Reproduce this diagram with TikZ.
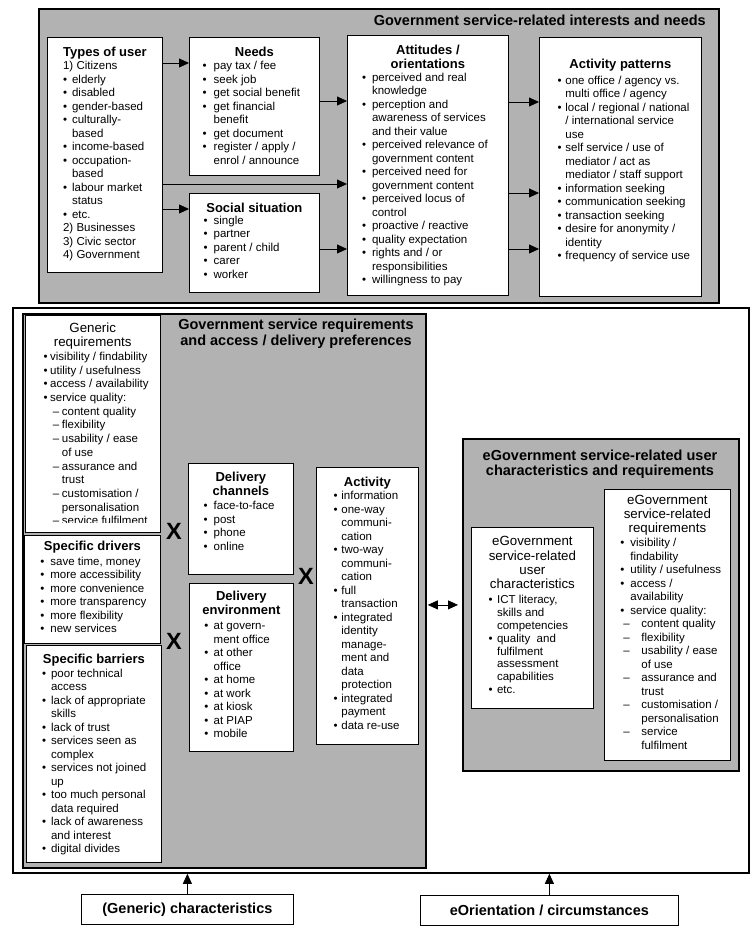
\documentclass[tikz,border=0pt]{standalone}
\usepackage{fontspec}
\setmainfont{Liberation Sans}
\usetikzlibrary{arrows.meta,calc}

\definecolor{panelgray}{gray}{0.70}
\newlength\bulx \newlength\bulw \newlength\dashx \newlength\dashw
\newcommand{\cardfont}{\fontsize{11.5}{13.5}\selectfont}
\newcommand{\cardheadfont}{\fontsize{13}{14.5}\selectfont\bfseries}
\newcommand{\bigtitle}{\fontsize{14.5}{15.5}\selectfont\bfseries}
\newcommand{\bulletat}[2]{\setlength\bulx{#1pt}\setlength\bulw{#2pt}}
\newcommand{\dashat}[2]{\setlength\dashx{#1pt}\setlength\dashw{#2pt}}
\newcommand{\bitem}{\par\hangindent=\dimexpr\bulx+\bulw\relax\hangafter=1\hspace*{\bulx}\makebox[\bulw][l]{\textbullet}}
\newcommand{\ditem}{\par\hangindent=\dimexpr\dashx+\dashw\relax\hangafter=1\hspace*{\dashx}\makebox[\dashw][l]{\textendash}}
\newcommand{\nitem}{\par\hangindent=\dimexpr\bulx+\bulw\relax\hangafter=1\hspace*{\bulx}}
\newcommand{\cardhead}[2]{{\centering\cardheadfont\rule{0pt}{#1pt}#2\par}}
\newcommand{\cardheadr}[2]{{\centering\fontsize{13.3}{14.2}\selectfont\rule{0pt}{#1pt}#2\par}}
% box of w x h with text from the top
\newcommand{\cardtext}[3]{\parbox[c][#2pt][t]{#1pt}{\cardfont\rightskip=-30pt plus 1fil\relax #3}}

\begin{document}
\begin{tikzpicture}[x=1pt, y=-1pt, >={Triangle[length=10pt,width=9pt]},
  card/.style={draw, fill=white, line width=0.8pt, inner sep=0pt, anchor=north west},
  panel/.style={draw, fill=panelgray, line width=1.8pt, inner sep=0pt, anchor=north west},
  link/.style={line width=0.8pt, arrows=->},
  cross/.style={font=\fontsize{23.5}{24}\selectfont\bfseries, inner sep=0pt}]
\useasboundingbox (0,0) rectangle (753,930);

% interests and needs
\node[panel, minimum width=680pt, minimum height=294pt] (interests) at (38,8) {};
\node[anchor=base east, inner sep=0pt, font=\bigtitle] (intereststitle) at (706,25.7) {Government service-related interests and needs};

\node[card] (types) at (47,37) {\cardtext{115}{235}{\bulletat{15.7}{9}
  \cardhead{18.7}{Types of user}
  \nitem 1) Citizens
  \bitem elderly
  \bitem disabled
  \bitem gender-based
  \bitem culturally-\\based
  \bitem income-based
  \bitem occupation-\\based
  \bitem labour market\\status
  \bitem etc.
  \nitem 2) Businesses
  \nitem 3) Civic sector
  \nitem 4) Government}};

\node[card] (needs) at (189,37) {\cardtext{130}{138}{\bulletat{13.3}{11}
  \cardhead{18.7}{Needs}
  \bitem pay tax / fee
  \bitem seek job
  \bitem get social benefit
  \bitem get financial\\benefit
  \bitem get document
  \bitem register / apply /\\enrol / announce}};

\node[card] (social) at (189,193) {\cardtext{130}{99}{\bulletat{14.3}{10}
  \cardhead{19}{Social situation}\vspace{-1.5pt}
  \bitem single
  \bitem partner
  \bitem parent / child
  \bitem carer
  \bitem worker}};

\node[card] (attitudes) at (347,35) {\cardtext{161}{260}{\bulletat{14.7}{10}
  \cardhead{19}{Attitudes /\\orientations}\vspace{-1pt}
  \bitem perceived and real\\knowledge
  \bitem perception and\\awareness of services\\and their value
  \bitem perceived relevance of\\government content
  \bitem perceived need for\\government content
  \bitem perceived locus of\\control
  \bitem proactive / reactive
  \bitem quality expectation
  \bitem rights and / or\\responsibilities
  \bitem willingness to pay}};

\node[card] (patterns) at (539,37) {\cardtext{162}{259}{\bulletat{18.3}{7.7}
  \cardhead{31}{Activity patterns}\vspace{2.5pt}
  \bitem one office / agency vs.\\multi office / agency
  \bitem local / regional / national\\/ international service\\use
  \bitem self service / use of\\mediator / act as\\mediator / staff support
  \bitem information seeking
  \bitem communication seeking
  \bitem transaction seeking
  \bitem desire for anonymity /\\identity
  \bitem frequency of service use}};

\draw[link] (types.east |- 0,63) -- (needs.west |- 0,63);
\draw[link] (types.east |- 0,184) -- (attitudes.west |- 0,184);
\draw[link] (types.east |- 0,209) -- (social.west |- 0,209);
\draw[link] (needs.east |- 0,101) -- (attitudes.west |- 0,101);
\draw[link] (social.east |- 0,249) -- (attitudes.west |- 0,249);
\foreach \y in {102,193,249}
  \draw[link] (attitudes.east |- 0,\y) -- (patterns.west |- 0,\y);

% requirements and preferences
\node[card, line width=1.8pt, minimum width=736pt, minimum height=565pt] (prefs) at (12,307) {};
\node[panel, minimum width=403pt, minimum height=554pt] (reqs) at (22,313) {};
\node[anchor=north, inner sep=0pt] (reqstitle) at (296,313) {\parbox[t]{260pt}{\centering\bigtitle\rule{0pt}{16.3pt}Government service requirements\\and access / delivery preferences}};

\node[card, minimum width=135pt, minimum height=217pt] (generic) at (25,315) {};
\begin{scope}
  \clip (25,315) rectangle (160,522);
  \node[anchor=north west, inner sep=0pt] (generictext) at (generic.north west) {\cardtext{135}{217}{\bulletat{18.3}{6.7}\dashat{27.7}{9}
    \cardheadr{17.3}{Generic\\requirements}
    \fontsize{11.5}{13.7}\selectfont
    \bitem visibility / findability
    \bitem utility / usefulness
    \bitem access / availability
    \bitem service quality:
    \ditem content quality
    \ditem flexibility
    \ditem usability / ease\\of use
    \ditem assurance and\\trust
    \ditem customisation /\\personalisation
    \ditem service fulfilment}};
\end{scope}

\node[card] (drivers) at (24,535) {\cardtext{136}{108}{\bulletat{16}{10}
  \cardhead{15}{Specific drivers}\vspace{1.5pt}
  \bitem save time, money
  \bitem more accessibility
  \bitem more convenience
  \bitem more transparency
  \bitem more flexibility
  \bitem new services}};

\node[card] (barriers) at (26,645) {\cardtext{135}{217}{\bulletat{15.7}{9}
  \cardhead{18}{Specific barriers}\vspace{0.5pt}
  \bitem poor technical\\access
  \bitem lack of appropriate\\skills
  \bitem lack of trust
  \bitem services seen as\\complex
  \bitem services not joined\\up
  \bitem too much personal\\data required
  \bitem lack of awareness\\and interest
  \bitem digital divides}};

\node[card] (channels) at (188,463) {\cardtext{105}{111}{\bulletat{15.3}{10}
  \cardhead{17.7}{Delivery\\channels}\vspace{0.8pt}
  \bitem face-to-face
  \bitem post
  \bitem phone
  \bitem online}};

\node[card] (environment) at (189,583) {\cardtext{104}{168}{\bulletat{15}{9.3}
  \cardhead{17}{Delivery\\environment}\vspace{1.5pt}
  \bitem at govern-\\ment office
  \bitem at other\\office
  \bitem at home
  \bitem at work
  \bitem at kiosk
  \bitem at PIAP
  \bitem mobile}};

\node[card] (activity) at (316,467) {\cardtext{102}{277}{\bulletat{17.3}{7.7}
  \cardhead{19}{Activity}
  \bitem information
  \bitem one-way\\communi-\\cation
  \bitem two-way\\communi-\\cation
  \bitem full\\transaction
  \bitem integrated\\identity\\manage-\\ment and\\data\\protection
  \bitem integrated\\payment
  \bitem data re-use}};

\node[cross] (crossa) at (174,531) {X};
\node[cross] (crossb) at (174,641) {X};
\node[cross] (crossc) at (306,576) {X};

% eGovernment user side
\node[panel, minimum width=276pt, minimum height=332pt] (egov) at (462,438) {};
\node[anchor=north, inner sep=0pt] (egovtitle) at (600,438) {\parbox[t]{270pt}{\centering\bigtitle\rule{0pt}{22pt}eGovernment service-related user\\characteristics and requirements}};

\node[card] (egovchars) at (471,527) {\cardtext{122}{181}{\bulletat{17.3}{8.4}
  \cardheadr{18.5}{eGovernment\\service-related\\user\\characteristics}\vspace{2pt}
  \fontsize{11.5}{12.9}\selectfont
  \bitem ICT literacy,\\skills and\\competencies
  \bitem quality\ \ and\\fulfilment\\assessment\\capabilities
  \bitem etc.}};

\node[card] (egovreqs) at (604,489) {\cardtext{126}{271}{\bulletat{16}{10}\dashat{19}{18}
  \cardheadr{15}{eGovernment\\service-related\\requirements}\vspace{0.5pt}
  \bitem visibility /\\findability
  \bitem utility / usefulness
  \bitem access /\\availability
  \bitem service quality:
  \ditem content quality
  \ditem flexibility
  \ditem usability / ease\\of use
  \ditem assurance and\\trust
  \ditem customisation /\\personalisation
  \ditem service\\fulfilment}};

\draw[link, arrows=<->, shorten <=9pt, shorten >=4pt] (activity.east |- egov.west) -- (egov.west);

% inputs from below
\node[card, minimum width=212pt, minimum height=30pt, font=\bigtitle] (genchar) at (81,894) {(Generic) characteristics};
\node[card, minimum width=258pt, minimum height=30pt, font=\bigtitle] (eorient) at (420,895) {eOrientation / circumstances};
\draw[link] (genchar.north) -- (genchar.north |- prefs.south);
\draw[link] (eorient.north) -- (eorient.north |- prefs.south);
\end{tikzpicture}
\end{document}
